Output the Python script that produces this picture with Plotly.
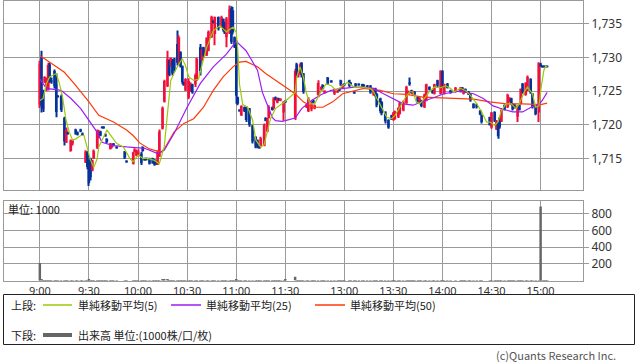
import plotly.graph_objects as go

W, H = 638, 362

# ---------------- data (1-minute candles) ----------------
times = [
    "9:00", "9:01", "9:02", "9:03", "9:04", "9:05", "9:06", "9:07", "9:09", "9:10",
    "9:11", "9:13", "9:15", "9:16", "9:17", "9:19", "9:20", "9:22", "9:23", "9:25",
    "9:26", "9:28", "9:29", "9:30", "9:31", "9:32", "9:33", "9:35", "9:36", "9:37",
    "9:38", "9:39", "9:40", "9:41", "9:43", "9:44", "9:45", "9:47", "9:52", "9:53",
    "9:57", "9:58", "9:59", "10:00", "10:02", "10:03", "10:04", "10:05", "10:07", "10:09",
    "10:10", "10:11", "10:12", "10:13", "10:15", "10:16", "10:18", "10:19", "10:20", "10:21",
    "10:22", "10:24", "10:25", "10:26", "10:27", "10:28", "10:29", "10:31", "10:32", "10:33",
    "10:35", "10:36", "10:38", "10:39", "10:40", "10:42", "10:43", "10:45", "10:46", "10:47",
    "10:49", "10:51", "10:52", "10:53", "10:54", "10:56", "10:57", "10:58", "10:59", "11:00",
    "11:01", "11:02", "11:03", "11:05", "11:06", "11:08", "11:10", "11:12", "11:13", "11:14",
    "11:15", "11:17", "11:18", "11:19", "11:20", "11:22", "11:23", "11:24", "11:25", "11:26",
    "11:27", "11:29", "11:30", "12:30", "12:31", "12:32", "12:33", "12:34", "12:35", "12:37",
    "12:38", "12:40", "12:41", "12:42", "12:44", "12:46", "12:47", "12:48", "12:50", "12:52",
    "12:54", "12:56", "12:57", "12:58", "12:59", "13:00", "13:03", "13:04", "13:06", "13:07",
    "13:09", "13:11", "13:12", "13:14", "13:16", "13:18", "13:19", "13:20", "13:22", "13:23",
    "13:25", "13:27", "13:29", "13:30", "13:31", "13:33", "13:34", "13:36", "13:38", "13:39",
    "13:40", "13:41", "13:42", "13:43", "13:45", "13:46", "13:47", "13:49", "13:50", "13:52",
    "13:54", "13:55", "13:57", "13:59", "14:00", "14:01", "14:03", "14:05", "14:08", "14:11",
    "14:12", "14:13", "14:14", "14:16", "14:17", "14:19", "14:21", "14:23", "14:24", "14:29",
    "14:30", "14:32", "14:33", "14:34", "14:35", "14:36", "14:38", "14:40", "14:41", "14:42",
    "14:43", "14:44", "14:46", "14:47", "14:48", "14:49", "14:51", "14:52", "14:54", "14:55",
    "14:57", "14:59", "15:00", "15:01", "15:02", "15:03", "15:04",
]
opens = [
    1723.0, 1730.0, 1724.8, 1726.3, 1725.2, 1725.3, 1729.0, 1726.6, 1728.0, 1726.0,
    1724.3, 1724.3, 1721.0, 1717.4, 1718.9, 1716.1, 1717.2, 1719.3, 1718.9, 1719.3,
    1718.6, 1714.4, 1716.0, 1714.7, 1715.0, 1713.2, 1715.0, 1716.5, 1718.1, 1719.0,
    1719.6, 1719.6, 1718.6, 1717.9, 1716.4, 1716.6, 1717.2, 1716.6, 1716.0, 1714.5,
    1714.2, 1716.0, 1715.4, 1715.4, 1715.7, 1716.7, 1715.0, 1714.9, 1715.0, 1715.0,
    1714.8, 1714.6, 1714.1, 1715.3, 1719.4, 1723.4, 1725.7, 1729.6, 1728.8, 1729.5,
    1729.8, 1732.0, 1729.2, 1730.8, 1728.7, 1726.3, 1725.1, 1724.0, 1725.0, 1726.0,
    1726.0, 1726.6, 1731.5, 1729.5, 1731.5, 1730.3, 1731.0, 1733.0, 1735.5, 1733.5,
    1736.0, 1734.5, 1735.7, 1735.2, 1733.0, 1733.6, 1737.3, 1737.0, 1733.0, 1732.3,
    1724.1, 1722.1, 1721.4, 1722.6, 1722.6, 1722.4, 1719.9, 1718.2, 1717.7, 1716.6,
    1716.7, 1716.9, 1721.0, 1719.0, 1721.0, 1722.6, 1722.4, 1724.1, 1723.3, 1723.9,
    1723.6, 1721.8, 1723.5, 1721.0, 1729.0, 1727.4, 1727.6, 1729.2, 1727.6, 1722.6,
    1722.0, 1722.3, 1723.6, 1722.4, 1724.4, 1725.2, 1725.9, 1724.8, 1727.0, 1726.5,
    1724.6, 1724.8, 1725.3, 1726.6, 1725.5, 1726.0, 1726.6, 1726.2, 1724.8, 1726.1,
    1726.0, 1726.0, 1725.9, 1725.8, 1725.8, 1724.4, 1725.4, 1724.6, 1723.9, 1723.4,
    1721.9, 1720.7, 1721.4, 1720.7, 1720.8, 1721.1, 1721.6, 1722.1, 1723.2, 1724.6,
    1726.3, 1725.1, 1724.6, 1724.9, 1724.1, 1723.4, 1723.6, 1722.6, 1723.6, 1725.6,
    1725.1, 1724.6, 1726.6, 1724.6, 1728.0, 1724.6, 1726.1, 1725.1, 1724.9, 1724.9,
    1725.5, 1724.6, 1725.3, 1724.9, 1724.6, 1723.1, 1723.0, 1722.1, 1721.4, 1721.1,
    1719.6, 1721.9, 1719.3, 1720.4, 1721.0, 1720.5, 1722.9, 1722.6, 1723.4, 1723.9,
    1723.1, 1723.0, 1721.2, 1722.9, 1723.1, 1726.1, 1724.4, 1725.1, 1726.8, 1724.6,
    1722.9, 1721.8, 1729.1, 1728.7, 1728.6, 1728.6, 1728.6,
]
highs = [
    1729.5, 1731.0, 1725.2, 1727.2, 1727.0, 1729.2, 1729.2, 1727.0, 1728.2, 1727.6,
    1724.4, 1724.5, 1721.2, 1719.6, 1719.0, 1717.8, 1717.8, 1719.4, 1719.0, 1719.4,
    1718.7, 1716.2, 1716.1, 1714.8, 1715.1, 1714.8, 1716.3, 1719.3, 1719.2, 1719.1,
    1719.7, 1719.7, 1718.7, 1718.0, 1717.3, 1717.2, 1717.3, 1716.7, 1716.1, 1714.6,
    1716.0, 1716.5, 1716.3, 1716.3, 1716.0, 1716.8, 1715.1, 1715.0, 1715.1, 1715.1,
    1714.9, 1714.7, 1716.2, 1719.3, 1722.7, 1726.7, 1731.0, 1729.7, 1730.0, 1729.8,
    1729.9, 1734.0, 1733.3, 1730.9, 1728.8, 1726.4, 1726.9, 1726.9, 1726.3, 1726.1,
    1727.6, 1730.0, 1732.0, 1731.5, 1731.6, 1733.0, 1734.0, 1736.2, 1735.6, 1736.1,
    1736.1, 1736.2, 1735.8, 1735.3, 1736.0, 1737.7, 1737.6, 1737.5, 1733.1, 1732.5,
    1724.2, 1722.2, 1722.9, 1722.7, 1722.7, 1722.5, 1720.0, 1718.3, 1717.8, 1716.7,
    1718.2, 1720.2, 1721.1, 1721.0, 1722.9, 1722.7, 1724.1, 1724.2, 1724.0, 1724.0,
    1723.9, 1723.5, 1723.6, 1728.3, 1729.2, 1728.0, 1729.2, 1729.3, 1727.7, 1723.1,
    1724.1, 1723.5, 1723.7, 1723.0, 1726.6, 1725.7, 1726.0, 1725.1, 1727.1, 1726.6,
    1725.4, 1725.4, 1725.4, 1726.7, 1726.0, 1726.1, 1726.7, 1726.3, 1724.9, 1726.2,
    1726.1, 1726.1, 1726.0, 1725.9, 1725.9, 1725.4, 1725.5, 1724.7, 1724.0, 1723.5,
    1722.0, 1720.8, 1721.5, 1721.9, 1722.1, 1722.6, 1723.4, 1723.6, 1725.8, 1725.1,
    1727.0, 1725.2, 1725.1, 1725.0, 1724.2, 1724.1, 1723.7, 1724.6, 1726.1, 1725.7,
    1725.2, 1726.1, 1726.7, 1728.1, 1728.1, 1726.1, 1726.2, 1725.2, 1725.6, 1725.6,
    1725.6, 1725.4, 1725.4, 1725.0, 1724.7, 1723.2, 1723.1, 1722.2, 1721.5, 1721.2,
    1721.9, 1722.0, 1720.7, 1720.5, 1721.1, 1722.4, 1723.0, 1724.6, 1724.1, 1724.0,
    1723.2, 1723.1, 1722.9, 1723.0, 1725.4, 1726.2, 1726.3, 1727.3, 1726.9, 1724.7,
    1723.0, 1729.3, 1729.2, 1728.7, 1728.6, 1728.6, 1728.6,
]
lows = [
    1722.5, 1721.8, 1721.9, 1726.2, 1725.0, 1725.1, 1726.2, 1726.1, 1725.4, 1721.1,
    1724.1, 1721.9, 1716.9, 1717.3, 1718.5, 1716.0, 1716.9, 1718.5, 1718.4, 1718.9,
    1718.6, 1714.3, 1713.4, 1710.9, 1711.7, 1713.1, 1714.9, 1716.4, 1718.0, 1718.3,
    1719.6, 1719.5, 1718.2, 1717.3, 1716.3, 1716.5, 1716.8, 1716.6, 1714.9, 1714.5,
    1714.1, 1715.9, 1715.3, 1715.3, 1714.0, 1716.0, 1714.7, 1714.9, 1714.1, 1714.2,
    1713.9, 1714.0, 1714.0, 1715.2, 1719.3, 1723.3, 1725.6, 1727.2, 1728.7, 1727.3,
    1727.9, 1728.8, 1729.1, 1728.5, 1726.0, 1725.8, 1725.0, 1723.8, 1724.9, 1724.6,
    1725.6, 1726.5, 1727.3, 1729.4, 1730.0, 1730.2, 1730.9, 1732.9, 1735.0, 1731.8,
    1734.0, 1734.4, 1733.8, 1733.5, 1731.5, 1733.5, 1732.0, 1733.4, 1731.4, 1723.1,
    1722.9, 1722.0, 1721.3, 1721.9, 1720.4, 1719.7, 1717.2, 1716.5, 1716.5, 1716.5,
    1716.6, 1716.8, 1720.5, 1718.9, 1720.9, 1722.1, 1722.3, 1723.6, 1723.2, 1723.6,
    1723.5, 1720.6, 1723.4, 1720.7, 1727.0, 1727.0, 1727.5, 1727.0, 1724.6, 1722.5,
    1721.9, 1722.0, 1723.2, 1722.3, 1724.1, 1725.0, 1725.2, 1724.6, 1725.9, 1726.4,
    1724.4, 1724.7, 1725.0, 1725.8, 1725.4, 1725.9, 1725.6, 1725.9, 1724.6, 1725.6,
    1725.9, 1725.6, 1725.8, 1725.6, 1724.6, 1724.3, 1724.1, 1722.6, 1721.7, 1721.4,
    1720.2, 1719.4, 1720.7, 1720.6, 1720.7, 1721.0, 1721.5, 1722.0, 1723.1, 1724.5,
    1725.8, 1724.6, 1724.5, 1724.4, 1723.2, 1723.3, 1722.6, 1722.5, 1723.5, 1725.1,
    1724.6, 1724.5, 1725.6, 1724.5, 1725.5, 1724.5, 1725.4, 1724.6, 1724.8, 1724.8,
    1725.0, 1724.5, 1724.8, 1724.4, 1723.4, 1722.4, 1722.4, 1721.4, 1720.2, 1719.9,
    1719.4, 1720.4, 1719.2, 1717.9, 1719.4, 1720.4, 1722.1, 1722.5, 1723.3, 1722.9,
    1722.1, 1722.4, 1720.4, 1722.1, 1723.0, 1724.6, 1724.3, 1725.0, 1724.6, 1722.4,
    1721.4, 1720.4, 1728.6, 1728.6, 1728.6, 1728.6, 1728.6,
]
closes = [
    1729.0, 1722.8, 1722.3, 1727.1, 1726.8, 1728.9, 1726.4, 1726.3, 1725.7, 1721.9,
    1724.2, 1722.2, 1717.5, 1719.2, 1718.6, 1717.6, 1717.7, 1718.7, 1718.5, 1719.0,
    1718.6, 1716.0, 1713.7, 1711.3, 1712.2, 1714.6, 1716.1, 1719.1, 1718.9, 1718.4,
    1719.6, 1719.5, 1718.3, 1717.4, 1717.2, 1717.0, 1716.9, 1716.6, 1715.1, 1714.5,
    1715.9, 1716.3, 1716.1, 1716.0, 1714.3, 1716.1, 1714.8, 1714.9, 1714.2, 1714.3,
    1714.1, 1714.1, 1716.0, 1719.0, 1722.5, 1726.5, 1729.8, 1727.4, 1729.9, 1727.6,
    1728.2, 1729.2, 1733.0, 1728.7, 1726.3, 1725.9, 1726.8, 1726.5, 1726.1, 1724.8,
    1727.4, 1729.8, 1728.0, 1731.2, 1730.3, 1732.8, 1733.8, 1736.0, 1735.1, 1736.0,
    1734.3, 1736.0, 1734.0, 1733.7, 1735.8, 1737.2, 1732.3, 1733.7, 1731.6, 1724.3,
    1723.1, 1722.1, 1722.8, 1722.0, 1720.7, 1720.0, 1717.5, 1716.8, 1716.6, 1716.5,
    1718.0, 1720.0, 1720.6, 1720.8, 1722.7, 1722.2, 1723.9, 1723.7, 1723.9, 1723.7,
    1723.8, 1723.4, 1723.5, 1728.0, 1727.3, 1727.9, 1729.0, 1727.3, 1724.9, 1723.0,
    1723.8, 1723.2, 1723.3, 1722.9, 1726.2, 1725.6, 1725.3, 1725.0, 1726.1, 1726.5,
    1725.2, 1725.3, 1725.1, 1726.0, 1725.9, 1726.0, 1725.8, 1726.0, 1724.7, 1725.8,
    1726.0, 1725.7, 1725.9, 1725.7, 1724.8, 1725.2, 1724.3, 1722.9, 1722.0, 1721.7,
    1720.5, 1719.6, 1720.8, 1721.8, 1722.0, 1722.5, 1723.2, 1723.5, 1725.6, 1725.0,
    1726.0, 1724.7, 1725.0, 1724.5, 1723.3, 1724.0, 1722.8, 1724.5, 1726.0, 1725.2,
    1724.7, 1726.0, 1725.8, 1728.0, 1725.8, 1726.0, 1725.5, 1724.7, 1725.5, 1725.5,
    1725.1, 1725.3, 1724.9, 1724.5, 1723.6, 1722.5, 1722.6, 1721.5, 1720.4, 1720.0,
    1721.8, 1720.6, 1720.6, 1718.3, 1719.6, 1722.2, 1722.2, 1724.4, 1724.0, 1723.0,
    1722.3, 1722.5, 1722.8, 1722.2, 1725.3, 1724.8, 1726.2, 1727.1, 1724.8, 1722.6,
    1721.6, 1729.1, 1728.7, 1728.6, 1728.6, 1728.6, 1728.6,
]
volumes = [
    210, 12, 6, 3, 4, 5, 4, 2, 3, 5,
    1, 3, 6, 4, 2, 3, 2, 2, 2, 1,
    1, 3, 4, 8, 5, 3, 3, 4, 2, 2,
    1, 1, 2, 2, 2, 1, 1, 1, 2, 1,
    2, 1, 1, 2, 2, 1, 1, 1, 2, 1,
    2, 1, 3, 5, 7, 8, 9, 4, 3, 3,
    3, 5, 5, 3, 3, 2, 2, 3, 2, 2,
    2, 4, 4, 3, 2, 3, 3, 4, 1, 3,
    2, 2, 2, 2, 3, 4, 4, 3, 2, 8,
    3, 1, 2, 2, 3, 3, 4, 3, 2, 1,
    2, 3, 1, 2, 2, 1, 2, 1, 1, 1,
    1, 2, 15, 45, 4, 2, 3, 3, 3, 2,
    2, 2, 1, 1, 2, 1, 1, 1, 2, 1,
    1, 1, 1, 1, 1, 1, 1, 1, 1, 1,
    1, 1, 1, 1, 2, 1, 2, 2, 2, 2,
    2, 2, 1, 1, 1, 1, 2, 1, 2, 1,
    2, 1, 1, 1, 1, 1, 1, 1, 2, 1,
    1, 1, 1, 2, 2, 1, 1, 1, 1, 1,
    1, 1, 1, 1, 1, 1, 1, 1, 2, 1,
    2, 1, 1, 2, 1, 2, 1, 2, 1, 1,
    1, 1, 2, 1, 2, 2, 2, 2, 2, 2,
    3, 6, 885, 1, 1, 1, 1,
]

# simple moving averages as drawn on the chart (include prior-day history)
ma5_times = [
    "9:00", "9:02", "9:04", "9:06", "9:10", "9:12", "9:14", "9:16", "9:18", "9:20",
    "9:22", "9:25", "9:27", "9:29", "9:31", "9:33", "9:35", "9:36", "9:39", "9:41",
    "9:44", "9:47", "9:51", "9:55", "9:57", "10:00", "10:03", "10:06", "10:10", "10:13",
    "10:16", "10:18", "10:20", "10:24", "10:27", "10:29", "10:31", "10:34", "10:37", "10:39",
    "10:42", "10:46", "10:50", "10:54", "10:58", "11:00", "11:01", "11:02", "11:04", "11:07",
    "11:10", "11:12", "11:15", "11:17", "11:19", "11:21", "11:24", "11:28", "11:30", "12:30",
    "12:31", "12:33", "12:35", "12:37", "12:39", "12:42", "12:45", "12:49", "12:52", "12:55",
    "12:59", "13:02", "13:06", "13:10", "13:16", "13:18", "13:20", "13:23", "13:26", "13:29",
    "13:31", "13:34", "13:37", "13:40", "13:42", "13:44", "13:46", "13:49", "13:52", "13:55",
    "13:59", "14:02", "14:05", "14:07", "14:11", "14:14", "14:17", "14:21", "14:24", "14:27",
    "14:29", "14:32", "14:34", "14:36", "14:39", "14:42", "14:45", "14:47", "14:50", "14:52",
    "14:55", "14:57", "14:59", "15:00", "15:02", "15:03", "15:04",
]
ma5_values = [
    1723.6, 1723.9, 1726.1, 1727.1, 1727.6, 1726.1, 1723.9, 1720.7, 1718.9, 1717.7,
    1717.9, 1718.4, 1718.4, 1716.7, 1714.7, 1713.7, 1714.9, 1716.7, 1718.2, 1719.2,
    1718.2, 1717.2, 1716.7, 1715.0, 1714.5, 1715.5, 1715.0, 1715.0, 1714.7, 1714.2,
    1716.7, 1722.1, 1726.6, 1728.6, 1729.8, 1728.8, 1727.1, 1726.6, 1726.8, 1728.8,
    1731.5, 1734.0, 1734.7, 1733.8, 1734.5, 1733.8, 1731.0, 1726.0, 1723.0, 1722.6,
    1720.7, 1717.7, 1716.7, 1717.0, 1718.9, 1720.9, 1722.4, 1723.1, 1723.5, 1724.8,
    1727.1, 1728.6, 1727.1, 1724.6, 1723.1, 1723.1, 1724.6, 1726.1, 1725.8, 1725.1,
    1725.8, 1726.3, 1725.6, 1725.6, 1725.4, 1724.9, 1723.9, 1722.4, 1721.1, 1720.9,
    1721.4, 1722.6, 1723.9, 1724.9, 1724.9, 1723.4, 1723.1, 1723.9, 1724.9, 1725.6,
    1725.5, 1725.8, 1725.4, 1724.9, 1725.4, 1725.1, 1724.4, 1723.1, 1721.9, 1720.4,
    1720.4, 1719.9, 1720.4, 1722.1, 1723.1, 1723.1, 1722.4, 1723.1, 1724.9, 1725.6,
    1724.6, 1722.6, 1722.8, 1725.0, 1728.1, 1728.7, 1728.6,
]
ma25_times = [
    "9:00", "9:02", "9:04", "9:13", "9:19", "9:25", "9:30", "9:35", "9:38", "9:45",
    "9:53", "10:01", "10:04", "10:12", "10:16", "10:22", "10:30", "10:38", "10:46", "10:54",
    "11:00", "11:06", "11:13", "11:16", "11:19", "11:22", "11:24", "11:28", "11:30", "12:30",
    "12:34", "12:40", "12:46", "12:52", "13:00", "13:06", "13:12", "13:18", "13:24", "13:30",
    "13:36", "13:42", "13:48", "13:54", "14:01", "14:10", "14:19", "14:25", "14:31", "14:37",
    "14:43", "14:49", "14:55", "14:59", "15:01", "15:04",
]
ma25_values = [
    1726.8, 1726.1, 1725.4, 1725.1, 1723.9, 1722.4, 1720.7, 1718.9, 1717.4, 1716.9,
    1716.7, 1716.6, 1716.5, 1715.7, 1716.2, 1718.7, 1722.6, 1726.1, 1728.6, 1730.5,
    1732.4, 1731.0, 1728.1, 1724.8, 1723.0, 1721.1, 1720.6, 1720.5, 1720.6, 1721.0,
    1722.4, 1723.6, 1724.5, 1725.1, 1725.4, 1725.6, 1725.6, 1725.4, 1724.6, 1723.9,
    1723.1, 1722.9, 1723.4, 1724.0, 1724.6, 1725.0, 1724.6, 1723.9, 1722.8, 1722.3,
    1721.9, 1721.9, 1722.7, 1723.0, 1723.6, 1724.8,
]
ma50_times = [
    "9:00", "9:06", "9:15", "9:21", "9:30", "9:36", "9:45", "9:53", "9:57", "10:01",
    "10:07", "10:14", "10:16", "10:22", "10:28", "10:34", "10:40", "10:46", "10:52", "10:58",
    "11:02", "11:06", "11:13", "11:18", "11:24", "11:30", "12:30", "12:35", "12:41", "12:47",
    "12:53", "12:59", "13:04", "13:12", "13:22", "13:30", "13:38", "13:48", "13:59", "14:09",
    "14:19", "14:29", "14:39", "14:49", "14:56", "15:00", "15:04",
]
ma50_values = [
    1730.3, 1729.3, 1727.8, 1726.1, 1723.4, 1721.4, 1720.4, 1719.2, 1718.4, 1717.3,
    1716.4, 1715.9, 1716.4, 1718.9, 1720.2, 1720.9, 1722.6, 1725.1, 1727.1, 1728.6,
    1729.3, 1729.4, 1728.6, 1727.6, 1726.6, 1725.6, 1724.6, 1723.4, 1722.6, 1722.6,
    1723.4, 1724.6, 1724.9, 1725.4, 1725.1, 1724.6, 1724.5, 1724.1, 1724.0, 1723.9,
    1723.8, 1723.4, 1723.1, 1723.1, 1723.0, 1723.0, 1723.2,
]

time_ticks = ["9:00", "9:30", "10:00", "10:30", "11:00", "11:30",
              "13:00", "13:30", "14:00", "14:30", "15:00"]
price_ticks = [1715, 1720, 1725, 1730, 1735]
price_tick_text = ["1,715", "1,720", "1,725", "1,730", "1,735"]
volume_ticks = [200, 400, 600, 800]

# ---------------- time scale (lunch break compressed) ----------------
AM_OPEN = 9 * 60
PM_OPEN = 12 * 60 + 30
PM_AXIS_START = 156  # axis position of the afternoon open (short gap after 11:30)


def pos(t):
    h, m = map(int, t.split(":"))
    mm = h * 60 + m
    if mm < PM_OPEN:
        return mm - AM_OPEN
    return mm - PM_OPEN + PM_AXIS_START


X_RANGE = [-22.2, 331.9]
P_RANGE = [1710.3, 1738.46]
V_RANGE = [0, 952]

RED = "#f0103a"
BLUE = "#053299"
GRID = "#9a9a9a"

xs = [pos(t) for t in times]
colors = [RED if c > o else BLUE for o, c in zip(opens, closes)]
MIN_BODY = 0.16
body_base, body_len = [], []
for o, c in zip(opens, closes):
    lo, hi = min(o, c), max(o, c)
    if hi - lo < MIN_BODY:
        mid = (hi + lo) / 2
        body_base.append(mid - MIN_BODY / 2)
        body_len.append(MIN_BODY)
    else:
        body_base.append(lo)
        body_len.append(hi - lo)

fig = go.Figure()

# wicks
fig.add_trace(go.Bar(
    x=xs, y=[h - l for h, l in zip(highs, lows)], base=lows, width=0.62,
    marker=dict(color=colors, line=dict(width=0)),
    xaxis="x", yaxis="y", hoverinfo="skip"))
# bodies
fig.add_trace(go.Bar(
    x=xs, y=body_len, base=body_base, width=1.5,
    marker=dict(color=colors, line=dict(width=0)),
    xaxis="x", yaxis="y", hoverinfo="skip"))

# moving averages
for t_list, v_list, col in [
    (ma50_times, ma50_values, "#ff3a0a"),
    (ma25_times, ma25_values, "#9d1cf5"),
    (ma5_times, ma5_values, "#9cc90a"),
]:
    fig.add_trace(go.Scatter(
        x=[pos(t) for t in t_list], y=v_list, mode="lines",
        line=dict(color=col, width=1.2), xaxis="x", yaxis="y",
        hoverinfo="skip"))

# volume
fig.add_trace(go.Bar(
    x=xs, y=volumes, width=1.5,
    marker=dict(color="#666666", line=dict(width=0)),
    xaxis="x2", yaxis="y2", hoverinfo="skip"))


def px_x(x):
    return x / W


def px_y(y):
    return 1 - y / H


x_dom = [px_x(3.5), px_x(583)]
tickpos = [pos(t) for t in time_ticks]
axis_font = dict(family="Noto Sans, Noto Sans CJK JP", size=11, color="#333333")

fig.update_layout(
    width=W, height=H,
    margin=dict(l=0, r=0, t=0, b=0),
    paper_bgcolor="white", plot_bgcolor="white",
    showlegend=False, barmode="overlay", hovermode=False,
    font=dict(family="Noto Sans CJK JP, Noto Sans", size=11, color="#333333"),
    xaxis=dict(domain=x_dom, range=X_RANGE, anchor="y",
               tickvals=tickpos, showticklabels=False, ticks="",
               showgrid=True, gridcolor=GRID, gridwidth=1,
               showline=True, mirror=True, linecolor=GRID, linewidth=1,
               zeroline=False, fixedrange=True),
    yaxis=dict(domain=[px_y(190), px_y(0.5)], range=P_RANGE, anchor="x",
               side="right", tickvals=price_ticks, ticktext=price_tick_text,
               ticks="outside", ticklen=5, tickcolor=GRID,
               tickfont=dict(family="Noto Sans, Noto Sans CJK JP", size=12, color="#333333"),
               showgrid=True, gridcolor=GRID, gridwidth=1,
               showline=True, mirror=True, linecolor=GRID, linewidth=1,
               zeroline=False, fixedrange=True),
    xaxis2=dict(domain=x_dom, range=X_RANGE, anchor="y2",
                tickvals=tickpos, ticktext=time_ticks, showticklabels=True,
                ticks="", ticklen=0, tickfont=axis_font,
                showgrid=True, gridcolor=GRID, gridwidth=1,
                showline=True, mirror=True, linecolor=GRID, linewidth=1,
                zeroline=False, fixedrange=True),
    yaxis2=dict(domain=[px_y(280.5), px_y(201)], range=V_RANGE, anchor="x2",
                side="right", tickvals=volume_ticks,
                ticks="outside", ticklen=5, tickcolor=GRID,
                tickfont=dict(family="Noto Sans, Noto Sans CJK JP", size=12, color="#333333"),
                showgrid=True, gridcolor=GRID, gridwidth=1,
                showline=True, mirror=True, linecolor=GRID, linewidth=1,
                zeroline=False, fixedrange=True),
)

# legend box and samples (decoration, in pixel positions)
shapes = [
    dict(type="rect", xref="paper", yref="paper",
         x0=px_x(3.5), x1=px_x(634.5), y0=px_y(344.5), y1=px_y(294.5),
         line=dict(color="#222222", width=1), fillcolor="rgba(0,0,0,0)"),
    dict(type="line", xref="paper", yref="paper", x0=px_x(43), x1=px_x(72),
         y0=px_y(305), y1=px_y(305), line=dict(color="#9cc90a", width=1.5)),
    dict(type="line", xref="paper", yref="paper", x0=px_x(171), x1=px_x(201),
         y0=px_y(305), y1=px_y(305), line=dict(color="#9d1cf5", width=1.5)),
    dict(type="line", xref="paper", yref="paper", x0=px_x(315), x1=px_x(345),
         y0=px_y(305), y1=px_y(305), line=dict(color="#ff3a0a", width=1.5)),
    dict(type="line", xref="paper", yref="paper", x0=px_x(43), x1=px_x(72),
         y0=px_y(335), y1=px_y(335), line=dict(color="#666666", width=4)),
]
fig.update_layout(shapes=shapes)

labels = [
    ("単位: 1000", 6, 209, "left", "#222222"),
    ("上段:", 9, 305, "left", "#222222"),
    ("単純移動平均(5)", 76, 305, "left", "#222222"),
    ("単純移動平均(25)", 204, 305, "left", "#222222"),
    ("単純移動平均(50)", 348, 305, "left", "#222222"),
    ("下段:", 9, 335, "left", "#222222"),
    ("出来高 単位:(1000株/口/枚)", 76, 335, "left", "#222222"),
    ("(c)Quants Research Inc.", 618, 355, "right", "#555555"),
]
for text, x, y, anchor, col in labels:
    fig.add_annotation(text=text, xref="paper", yref="paper",
                       x=px_x(x), y=px_y(y), xanchor=anchor, yanchor="middle",
                       showarrow=False,
                       font=dict(family="Noto Sans CJK JP", size=11, color=col))

fig.write_html("out.html")
